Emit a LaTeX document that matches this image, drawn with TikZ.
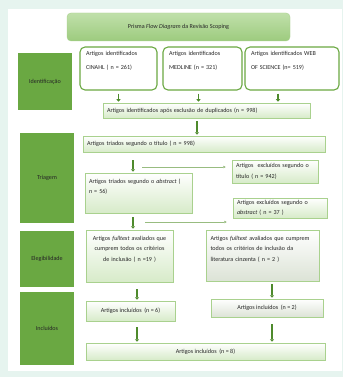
\documentclass[tikz,border=0pt]{standalone}
\usepackage{fontspec}
\setmainfont{Carlito}
\usetikzlibrary{arrows.meta,shadows}

\definecolor{mint}{HTML}{E6F4EF}
\definecolor{stagegreen}{HTML}{6AA842}
\definecolor{boxedge}{HTML}{A9D18E}
\definecolor{boxlow}{HTML}{D7EBC9}
\definecolor{titletop}{HTML}{C0E0AA}
\definecolor{titlelow}{HTML}{9DCB7E}
\definecolor{arrowgreen}{HTML}{4E8A2C}
\definecolor{greylow}{HTML}{DCE3D6}

\begin{document}
\begin{tikzpicture}[x=1pt,y=-1pt,
    every node/.style={font=\fontsize{6.1}{10.5}\selectfont, inner sep=0pt, text=black!85},
    stage/.style={fill=stagegreen, minimum width=54pt},
    srcbox/.style={draw=stagegreen, line width=1.1pt, rounded corners=5pt, fill=white,
      align=left, inner xsep=6pt, inner ysep=4pt, text height=5pt, text depth=30pt},
    flowbox/.style={draw=boxedge, line width=0.5pt, top color=white, bottom color=boxlow,
      drop shadow={shadow xshift=0.8pt, shadow yshift=-0.8pt, opacity=0.25},
      inner xsep=4pt},
    darr/.style={draw=arrowgreen, line width=1.8pt, -{Triangle[length=2.5pt,width=4pt]},
      shorten <=3pt, shorten >=1pt},
    harr/.style={draw=boxedge!90!black, line width=0.7pt, -{Triangle[length=2.5pt,width=2.5pt]},
      shorten >=6pt}]
  \useasboundingbox (0,0) rectangle (343,377);
  \fill[mint] (0,0) rectangle (343,377);
  \fill[white] (8,9) rectangle (342,371);

  % title
  \node[draw=boxedge, rounded corners=4pt, top color=titletop, bottom color=titlelow,
    minimum width=223pt, minimum height=28pt] (title) at (178.5,27)
    {Prisma \textit{Flow Diagram} da Revisão Scoping};

  % stages
  \node[stage, minimum height=57pt] (ident) at (45,81.5) {Identificação};
  \node[stage, minimum height=90pt] (triag) at (47,178) {Triagem};
  \node[stage, minimum height=56pt] (eleg) at (47,259) {Elegibilidade};
  \node[stage, minimum height=73pt] (incl) at (47,328.5) {Incluídos};

  % identification
  \node[srcbox, text width=65pt] (cinahl) at (118.5,68.5)
    {Artigos identificados\\[3pt]CINAHL ( n = 261)};
  \node[srcbox, text width=67pt] (medline) at (202.5,68.5)
    {Artigos identificados\\[3pt]MEDLINE (n = 321)};
  \node[srcbox, text width=82pt] (wos) at (292,68.5)
    {Artigos identificados WEB\\[3pt]OF SCIENCE (n= 519)};
  \node[flowbox, minimum width=207pt, minimum height=15pt, text width=199pt, align=left] (dedup) at (206.5,110.5)
    {Artigos identificados após exclusão de duplicados (n = 998)};

  % screening
  \node[flowbox, minimum width=242pt, minimum height=16pt, text width=234pt, align=left] (titulo) at (204,144)
    {Artigos triados segundo o título ( n = 998)};
  \node[flowbox, minimum width=85pt, minimum height=23pt, text width=78pt, align=left] (excl1) at (275,171.5)
    {Artigos~ excluídos segundo o\\título ( n = 942)};
  \node[flowbox, text width=99pt, align=left, inner ysep=5pt, text height=5pt, text depth=25pt] (abstract) at (138.5,193)
    {Artigos triados segundo o \textit{abstract} (\\n = 56)};
  \node[flowbox, minimum width=94pt, minimum height=20pt, text width=86pt, align=left] (excl2) at (280,208)
    {Artigos excluídos segundo o\\\textit{abstract} ( n = 37 )};

  % eligibility
  \node[flowbox, text width=79pt, align=center, inner ysep=5pt, text height=5pt, text depth=37pt] (fulltext) at (129.5,256)
    {Artigos \textit{fulltext} avaliados que\\cumprem todos os critérios\\de inclusão ( n =19 )};
  \node[flowbox, bottom color=greylow, text width=105pt, align=left, inner ysep=5pt, text height=5pt, text depth=36pt] (grey) at (263,255.5)
    {Artigos \textit{fulltext} avaliados que cumprem\\todos os critérios de inclusão da\\literatura cinzenta ( n = 2 )};

  % included
  \node[flowbox, minimum width=89pt, minimum height=20pt] (inc6) at (130.5,311) {Artigos incluídos~ (n = 6)};
  \node[flowbox, bottom color=greylow, minimum width=112pt, minimum height=18pt] (inc2) at (267,308) {Artigos incluídos~ (n = 2)};
  \node[flowbox, minimum width=239pt, minimum height=17pt] (inc8) at (205.5,351.5) {Artigos incluídos~ (n = 8)};

  % arrow columns
  \coordinate (c1) at (197,0);
  \coordinate (c2) at (133,0);
  \coordinate (c3) at (137,0);
  \coordinate (c4) at (272,0);
  \coordinate (b1) at (142,167);
  \coordinate (b2) at (145,222);

  \draw[darr] (cinahl.south) -- (cinahl.south |- dedup.north);
  \draw[darr] ([xshift=-4pt]medline.south) -- ([xshift=-4pt]medline.south |- dedup.north);
  \draw[darr] ([xshift=-14pt]wos.south) -- ([xshift=-14pt]wos.south |- dedup.north);
  \draw[darr] (dedup.south -| c1) -- (titulo.north -| c1);
  \draw[darr, shorten <=8pt] (titulo.south -| c2) -- (abstract.north -| c2);
  \draw[harr] (b1) -- (b1 -| excl1.west);
  \draw[darr, shorten <=4pt] (abstract.south -| c2) -- (fulltext.north -| c2);
  \draw[harr] (b2) -- (b2 -| excl2.west);
  \draw[darr, shorten <=7pt] (fulltext.south -| c3) -- (inc6.north -| c3);
  \draw[darr] (grey.south -| c4) -- (inc2.north -| c4);
  \draw[darr, shorten <=6pt] (inc6.south -| c3) -- (inc8.north -| c3);
  \draw[darr, shorten <=7pt] (inc2.south -| c4) -- (inc8.north -| c4);
\end{tikzpicture}
\end{document}
